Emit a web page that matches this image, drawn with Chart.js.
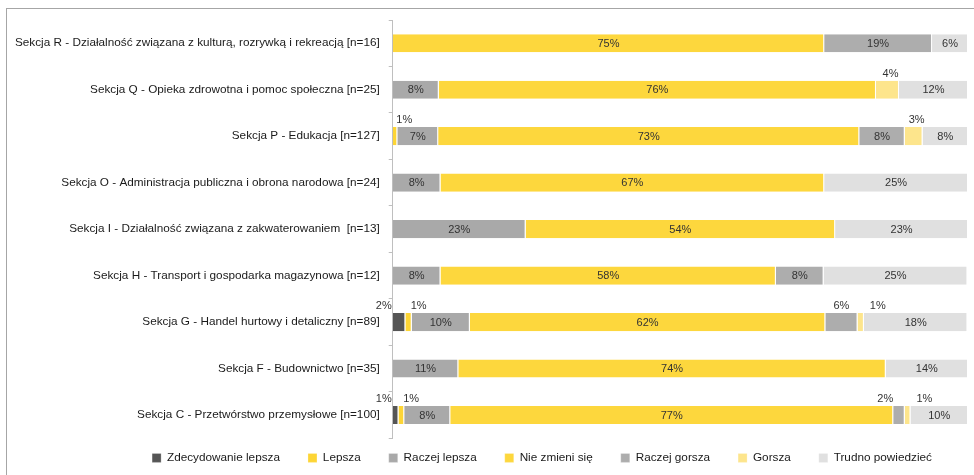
<!DOCTYPE html>
<html>
<head>
<meta charset="utf-8">
<script src="https://cdn.jsdelivr.net/npm/chart.js@4.4.1/dist/chart.umd.min.js"></script>
<style>
  html, body { margin: 0; padding: 0; background: #fff; }
  #wrap { width: 974px; height: 475px; position: relative; }
</style>
</head>
<body>
<div id="wrap"><canvas id="c" width="974" height="475"></canvas></div>
<script>
const categories = [
  'Sekcja R - Działalność związana z kulturą, rozrywką i rekreacją [n=16]',
  'Sekcja Q - Opieka zdrowotna i pomoc społeczna [n=25]',
  'Sekcja P - Edukacja [n=127]',
  'Sekcja O - Administracja publiczna i obrona narodowa [n=24]',
  'Sekcja I - Działalność związana z zakwaterowaniem  [n=13]',
  'Sekcja H - Transport i gospodarka magazynowa [n=12]',
  'Sekcja G - Handel hurtowy i detaliczny [n=89]',
  'Sekcja F - Budownictwo [n=35]',
  'Sekcja C - Przetwórstwo przemysłowe [n=100]'
];
const seriesNames = ['Zdecydowanie lepsza', 'Lepsza', 'Raczej lepsza', 'Nie zmieni się', 'Raczej gorsza', 'Gorsza', 'Trudno powiedzieć'];
const zdecydowanieLepsza = [0, 0, 0, 0, 0, 0, 2.2, 0, 1];
const lepsza             = [0, 0, 0.8, 0, 0, 0, 1.1, 0, 1];
const raczejLepsza       = [0, 8, 7.1, 8.3, 23.1, 8.3, 10.1, 11.4, 8];
const nieZmieniSie       = [75, 76, 73.2, 66.7, 53.8, 58.3, 61.8, 74.3, 77];
const raczejGorsza       = [18.75, 0, 7.9, 0, 0, 8.3, 5.6, 0, 2];
const gorsza             = [0, 4, 3.1, 0, 0, 0, 1.1, 0, 1];
const trudnoPowiedziec   = [6.25, 12, 7.9, 25, 23.1, 25, 18, 14.3, 10];

const seriesData = [zdecydowanieLepsza, lepsza, raczejLepsza, nieZmieniSie, raczejGorsza, gorsza, trudnoPowiedziec];
const colors = ['#555555', '#FDD535', '#A9A9A9', '#FDD73D', '#ADADAD', '#FDE58C', '#E0E0E0'];

const FONT = 'Liberation Sans';
const TEXT = '#1a1a1a';

const datasets = seriesNames.map((name, i) => ({
  label: name,
  data: seriesData[i],
  backgroundColor: colors[i],
  borderColor: '#ffffff',
  borderWidth: {top: 0, bottom: 0, left: 0, right: 1},
  borderSkipped: false,
  categoryPercentage: 0.39,
  barPercentage: 1
}));

const framePlugin = {
  id: 'frame',
  beforeDraw(chart) {
    const ctx = chart.ctx;
    ctx.save();
    ctx.fillStyle = '#fff';
    ctx.fillRect(0, 0, chart.width, chart.height);
    ctx.strokeStyle = '#A6A6A6';
    ctx.lineWidth = 1;
    ctx.strokeRect(6.5, 8.5, 1200, 600);
    ctx.restore();
  },
  afterLayout(chart) {
    const lg = chart.legend;
    if (lg) {
      const dy = 458 - (lg.top + 28 + 6);
      lg.left += 55; lg.right += 55; lg.top += dy; lg.bottom += dy;
    }
  }
};

const labelPlugin = {
  id: 'segLabels',
  afterDatasetsDraw(chart) {
    const ctx = chart.ctx;
    ctx.save();
    ctx.font = '11px "' + FONT + '"';
    ctx.fillStyle = '#333333';
    ctx.textBaseline = 'middle';
    chart.data.datasets.forEach((ds, di) => {
      const meta = chart.getDatasetMeta(di);
      meta.data.forEach((el, j) => {
        const v = ds.data[j];
        if (!v) return;
        const txt = Math.round(v) + '%';
        const left = Math.min(el.x, el.base), right = Math.max(el.x, el.base);
        const w = right - left;
        const cx = (left + right) / 2;
        const aboveY = el.y - el.height / 2 - 7;
        if (v >= 7 || di === 6) {
          ctx.textAlign = 'center';
          ctx.fillText(txt, cx, el.y + 0.5);
          return;
        }
        if (di === 0) {
          ctx.textAlign = 'right';
          ctx.fillText(txt, left - 1, aboveY);
        } else if (di === 1) {
          ctx.textAlign = 'left';
          ctx.fillText(txt, right - 1, aboveY);
        } else if (di === 4 && w < 15) {
          ctx.textAlign = 'right';
          ctx.fillText(txt, left, aboveY);
        } else if (di === 5 && w < 10) {
          ctx.textAlign = 'left';
          ctx.fillText(txt, right + 6, aboveY);
        } else {
          ctx.textAlign = 'center';
          ctx.fillText(txt, cx + (di === 5 ? 3 : 0), aboveY);
        }
      });
    });
    ctx.restore();
  }
};

new Chart(document.getElementById('c'), {
  type: 'bar',
  data: { labels: categories, datasets },
  options: {
    indexAxis: 'y',
    responsive: false,
    animation: false,
    devicePixelRatio: 1,
    layout: { padding: { left: 6, right: 6, top: 20, bottom: -13 } },
    scales: {
      x: {
        stacked: true,
        min: 0, max: 100,
        display: false
      },
      y: {
        stacked: true,
        border: { display: true, color: '#BFBFBF', width: 1 },
        grid: { display: true, drawOnChartArea: false, offset: true, tickLength: 4, color: '#BFBFBF' },
        ticks: { color: TEXT, font: { family: FONT, size: 11.75 }, padding: 9 }
      }
    },
    plugins: {
      legend: {
        position: 'bottom',
        labels: {
          boxWidth: 9, boxHeight: 9, padding: 28, color: TEXT,
          font: { family: FONT, size: 11.75 }
        }
      },
      tooltip: { enabled: false }
    }
  },
  plugins: [framePlugin, labelPlugin]
});
</script>
</body>
</html>
